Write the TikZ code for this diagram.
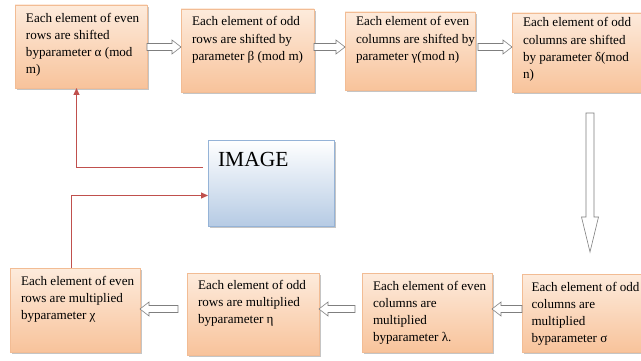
\documentclass[tikz,border=0pt]{standalone}
\usepackage{fontspec}
\setmainfont{Liberation Serif}
\usetikzlibrary{calc,shadows,arrows.meta}
\definecolor{peachtop}{HTML}{FDEBDC}
\definecolor{peachbot}{HTML}{F8C39B}
\definecolor{peachline}{HTML}{F2BC94}
\definecolor{imgbot}{HTML}{B6CBE4}
\definecolor{imgline}{HTML}{95B3D7}
\definecolor{arrred}{HTML}{C0504D}
\definecolor{arrgray}{HTML}{7F7F7F}

% box text: [left pad], width, height, first baseline from top, lines
\newcommand{\bx}[5][11pt]{\parbox[b][#3][t]{#2}{\fontsize{13.1}{17.2}\selectfont\leftskip=#1\rightskip=-60pt plus 1fil\parfillskip=0pt plus 1fil\rule{0pt}{#4}#5}}

% horizontal block arrow: direction (+1/-1), tail, tip
\newcommand{\harrow}[3]{%
  \draw[blockarr] let \p1=(#2), \p2=(#3) in
    ({\x1},{\y1+3.5pt}) -- ({\x2-(#1)*9pt},{\y1+3.5pt}) -- ({\x2-(#1)*9pt},{\y1+7pt})
    -- ({\x2},{\y1}) -- ({\x2-(#1)*9pt},{\y1-7pt}) -- ({\x2-(#1)*9pt},{\y1-3.5pt})
    -- ({\x1},{\y1-3.5pt}) -- cycle;}
% vertical (downward) block arrow: tail, tip
\newcommand{\varrow}[2]{%
  \draw[blockarr] let \p1=(#1), \p2=(#2) in
    ({\x1-4pt},{\y1}) -- ({\x1-4pt},{\y2+35pt}) -- ({\x1-8.5pt},{\y2+35pt})
    -- ({\x1},{\y2}) -- ({\x1+8.5pt},{\y2+35pt}) -- ({\x1+4pt},{\y2+35pt})
    -- ({\x1+4pt},{\y1}) -- cycle;}

\tikzset{
  box/.style={draw=peachline, line width=0.6pt, top color=peachtop, bottom color=peachbot,
    drop shadow={shadow xshift=1.8pt, shadow yshift=-2.4pt, fill=black!45, opacity=0.5},
    anchor=north west, inner sep=0pt, outer sep=0pt},
  imgbox/.style={draw=imgline, line width=0.6pt, top color=white, bottom color=imgbot,
    drop shadow={shadow xshift=1.8pt, shadow yshift=-2.4pt, fill=black!45, opacity=0.5},
    anchor=north west, inner sep=0pt, outer sep=0pt},
  blockarr/.style={draw=arrgray, line width=0.6pt, fill=white, line join=miter},
  redline/.style={color=arrred, draw=arrred, line width=1pt, -{Triangle[length=7pt,width=6pt]}}
}

\begin{document}
\begin{tikzpicture}[x=1pt,y=-1pt]
\useasboundingbox (0,0) rectangle (641,361);
\clip (0,0) rectangle (641,361);
\fill[white] (0,0) rectangle (641,361);

% top row
\node[box] (b1) at (15,5) {\bx{132pt}{83pt}{17pt}{Each element of even\\rows are shifted\\byparameter α (mod\\m)}};
\node[box] (b2) at (181,9) {\bx{133pt}{83pt}{17pt}{Each element of odd\\rows are shifted by\\parameter β (mod m)}};
\node[box] (b3) at (345,12) {\bx{130pt}{78pt}{14pt}{Each element of even\\columns are shifted by\\parameter γ(mod n)}};
\node[box] (b4) at (512,13) {\bx{131pt}{79pt}{14pt}{Each element of odd\\columns are shifted\\by parameter δ(mod\\n)}};

% bottom row
\node[box] (b5) at (10,268) {\bx{130pt}{84pt}{17pt}{Each element of even\\rows are multiplied\\byparameter χ}};
\node[box] (b6) at (187,273) {\bx{132pt}{82pt}{16pt}{Each element of odd\\rows are multiplied\\byparameter η}};
\node[box] (b7) at (362,273) {\bx{130pt}{79pt}{17pt}{Each element of even\\columns are\\multiplied\\byparameter λ.}};
\node[box] (b8) at (522,274) {\bx[9.5pt]{124pt}{78pt}{17pt}{Each element of odd\\columns are\\multiplied\\byparameter σ}};

% image box
\node[imgbox] (img) at (208,140) {\parbox[b][86pt][t]{126pt}{\fontsize{21.5}{24}\selectfont\leftskip=10pt\rule{0pt}{26pt}IMAGE}};

% rows for block arrows
\coordinate (toprow) at (0,47);
\coordinate (botrow) at (0,309);
\coordinate (dtail) at (590,113);
\coordinate (dtip) at (590,252);

\harrow{1}{b1.east |- toprow}{b2.west |- toprow}
\harrow{1}{b2.east |- toprow}{b3.west |- toprow}
\harrow{1}{$(b3.east |- toprow)+(3,0)$}{b4.west |- toprow}
\varrow{dtail}{dtip}
\harrow{-1}{b8.west |- botrow}{b7.east |- botrow}
\harrow{-1}{$(b7.west |- botrow)+(-7,0)$}{b6.east |- botrow}
\harrow{-1}{$(b6.west |- botrow)+(-9,0)$}{b5.east |- botrow}

% red connectors
\draw[redline] ($(b5.north west)+(61.5,0)$) |- ($(img.north west)+(0,55.5)$);
\draw[redline] ($(img.north west)+(-5,27.5)$) -| ($(b1.south west)+(61.5,0)$);
\end{tikzpicture}
\end{document}
